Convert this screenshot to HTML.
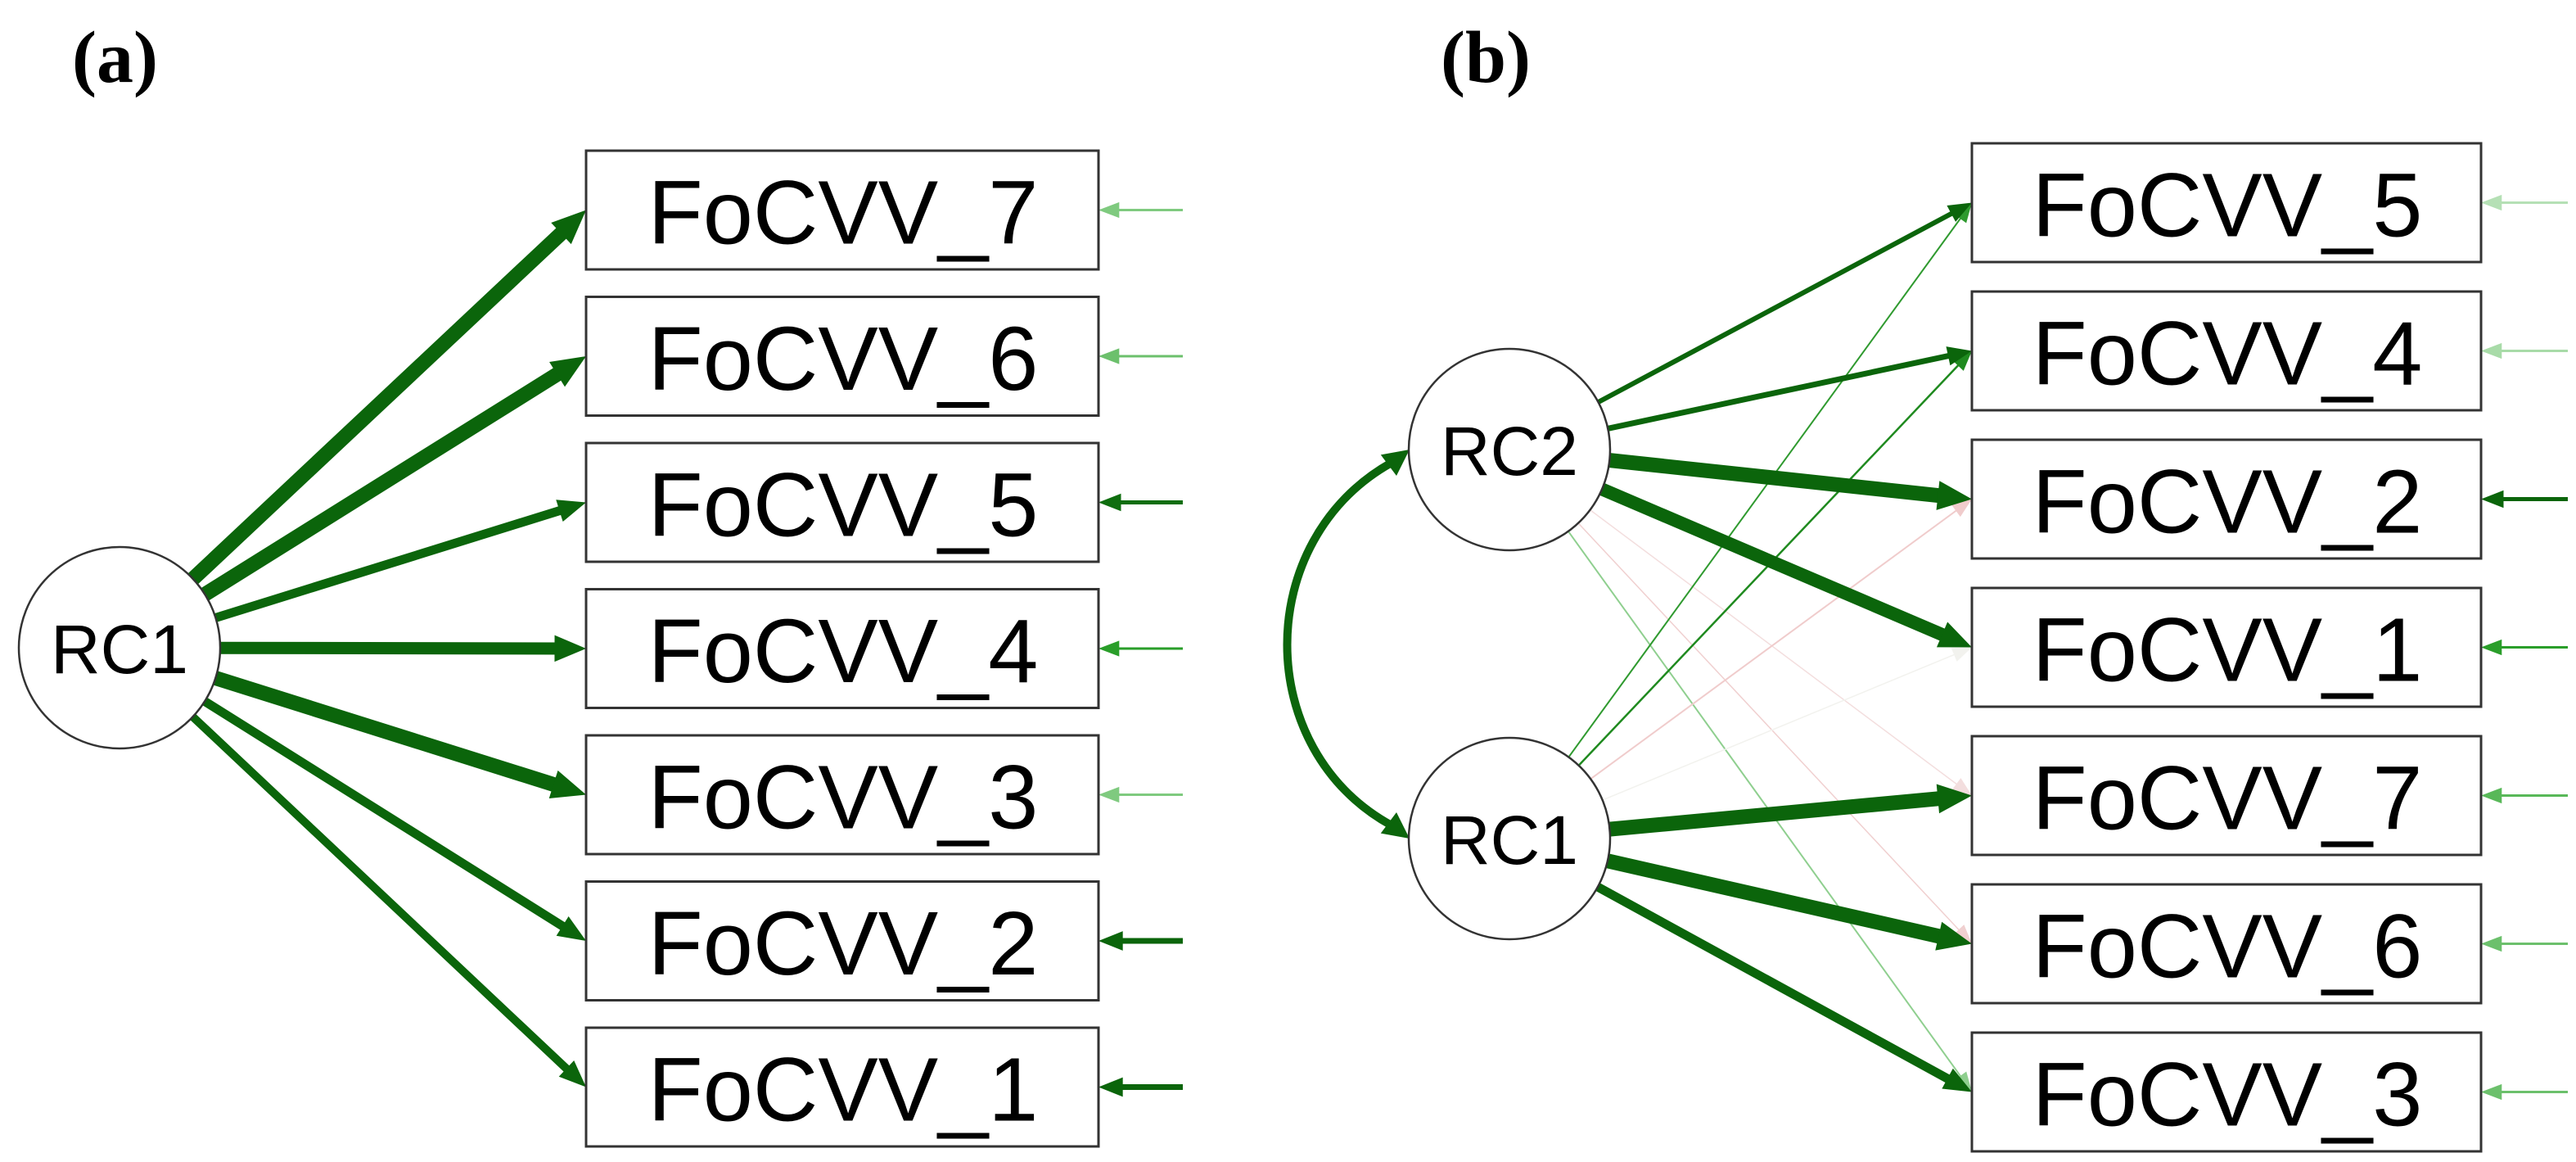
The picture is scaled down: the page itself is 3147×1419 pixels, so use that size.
<!DOCTYPE html>
<html><head><meta charset="utf-8"><style>
html,body{margin:0;padding:0;background:#fff;}
svg{display:block;}
</style></head><body>
<svg id="s" width="3147" height="1419" viewBox="0 0 3147 1419" xmlns="http://www.w3.org/2000/svg">
<rect width="3147" height="1419" fill="#fff"/>
<g id="edges"></g>
<g id="nodes" font-family="Liberation Sans, Arial, sans-serif" fill="#000">
<circle cx="146" cy="791" r="123" fill="#fff" stroke="#333" stroke-width="2.5"/>
<text x="146" y="822" font-size="84" text-anchor="middle">RC1</text>
<circle cx="1844" cy="549" r="123" fill="#fff" stroke="#333" stroke-width="2.5"/>
<text x="1844" y="580" font-size="84" text-anchor="middle">RC2</text>
<circle cx="1844" cy="1024" r="123" fill="#fff" stroke="#333" stroke-width="2.5"/>
<text x="1844" y="1055" font-size="84" text-anchor="middle">RC1</text>

<g fill="#fff" stroke="#333" stroke-width="3">
<rect x="716" y="184" width="626" height="145"/>
<rect x="716" y="362.5" width="626" height="145"/>
<rect x="716" y="541" width="626" height="145"/>
<rect x="716" y="719.5" width="626" height="145"/>
<rect x="716" y="898" width="626" height="145"/>
<rect x="716" y="1076.5" width="626" height="145"/>
<rect x="716" y="1255" width="626" height="145"/>
<rect x="2409" y="175" width="622" height="145"/>
<rect x="2409" y="356" width="622" height="145"/>
<rect x="2409" y="537" width="622" height="145"/>
<rect x="2409" y="718" width="622" height="145"/>
<rect x="2409" y="899" width="622" height="145"/>
<rect x="2409" y="1080" width="622" height="145"/>
<rect x="2409" y="1261" width="622" height="145"/>
</g>
<g font-size="110" text-anchor="middle">
<text x="1030" y="297.5">FoCVV_7</text>
<text x="1030" y="476">FoCVV_6</text>
<text x="1030" y="654.5">FoCVV_5</text>
<text x="1030" y="833">FoCVV_4</text>
<text x="1030" y="1011.5">FoCVV_3</text>
<text x="1030" y="1190">FoCVV_2</text>
<text x="1030" y="1368.5">FoCVV_1</text>
<text x="2721" y="288.5">FoCVV_5</text>
<text x="2721" y="469.5">FoCVV_4</text>
<text x="2721" y="650.5">FoCVV_2</text>
<text x="2721" y="831.5">FoCVV_1</text>
<text x="2721" y="1012.5">FoCVV_7</text>
<text x="2721" y="1193.5">FoCVV_6</text>
<text x="2721" y="1374.5">FoCVV_3</text>
</g>
</g>
<text x="88" y="100" font-family="Liberation Serif, serif" font-weight="bold" font-size="90">(a)</text>
<text x="1760" y="100" font-family="Liberation Serif, serif" font-weight="bold" font-size="90">(b)</text>
</svg>
<script>
(function(){
var NS="http://www.w3.org/2000/svg",g=document.getElementById("edges");
function arrow(x1,y1,x2,y2,w,c){
 var dx=x2-x1,dy=y2-y1,l=Math.sqrt(dx*dx+dy*dy),ux=dx/l,uy=dy/l;
 var L=Math.max(22,22+w*1.1),W=Math.max(9,8+w*0.55);
 var bx=x2-ux*L,by=y2-uy*L;
 var ln=document.createElementNS(NS,"line");
 ln.setAttribute("x1",x1);ln.setAttribute("y1",y1);
 ln.setAttribute("x2",x2-ux*L*0.6);ln.setAttribute("y2",y2-uy*L*0.6);
 ln.setAttribute("stroke",c);ln.setAttribute("stroke-width",w);
 g.appendChild(ln);
 var p=document.createElementNS(NS,"polygon");
 p.setAttribute("points",x2+","+y2+" "+(bx-uy*W)+","+(by+ux*W)+" "+(bx+uy*W)+","+(by-ux*W));
 p.setAttribute("fill",c);g.appendChild(p);
}
var D="#0b650b";
var ay=[256.5,435,613.5,792,970.5,1149,1327.5];
var aw=[18,18,11,15,18,11,10];
for(var i=0;i<7;i++)arrow(146,791,716,ay[i],aw[i],D);
var ar=["#7fca7f","#6cc06c","#0f6e0f","#2a9e2a","#7fca7f","#0b650b","#0b650b"];
var arw=[3,3,5,3,3,7,7];
for(i=0;i<7;i++)arrow(1445,ay[i],1342,ay[i],arw[i],ar[i]);
var by=[247.5,428.5,609.5,790.5,971.5,1152.5,1333.5];
arrow(1844,549,2409,by[6],2,"#8fcf8f");
arrow(1844,549,2409,by[4],1.5,"#f3dede");
arrow(1844,549,2409,by[5],1.5,"#f0d0d0");
arrow(1844,1024,2409,by[2],2,"#f0cccc");
arrow(1844,1024,2409,by[3],1.5,"#f2f2ee");
arrow(1844,1024,2409,by[0],2,"#2f9a2f");
arrow(1844,1024,2409,by[1],2.5,"#1f8a1f");
arrow(1844,549,2409,by[0],6,D);
arrow(1844,549,2409,by[1],7,D);
arrow(1844,549,2409,by[2],18,D);
arrow(1844,549,2409,by[3],16,D);
arrow(1844,1024,2409,by[4],18,D);
arrow(1844,1024,2409,by[5],18,D);
arrow(1844,1024,2409,by[6],11,D);
var br=["#b5e0b5","#a8dba8","#0b650b","#2a9e2a","#58b858","#6cc06c","#6cc06c"];
var brw=[3,3,5,3,3,3,3];
for(i=0;i<7;i++)arrow(3137,by[i],3031,by[i],brw[i],br[i]);
var p=document.createElementNS(NS,"path");
p.setAttribute("d","M1700,565 C1530,660 1530,915 1700,1008");
p.setAttribute("fill","none");p.setAttribute("stroke",D);p.setAttribute("stroke-width","10");
g.appendChild(p);
function head(x,y,ux,uy){var L=32,W=16,bx=x-ux*L,by2=y-uy*L;
 var q=document.createElementNS(NS,"polygon");
 q.setAttribute("points",x+","+y+" "+(bx-uy*W)+","+(by2+ux*W)+" "+(bx+uy*W)+","+(by2-ux*W));
 q.setAttribute("fill",D);g.appendChild(q);}
head(1722,549,0.8,-0.6);
head(1722,1024,0.8,0.6);
})();
</script>
</body></html>
